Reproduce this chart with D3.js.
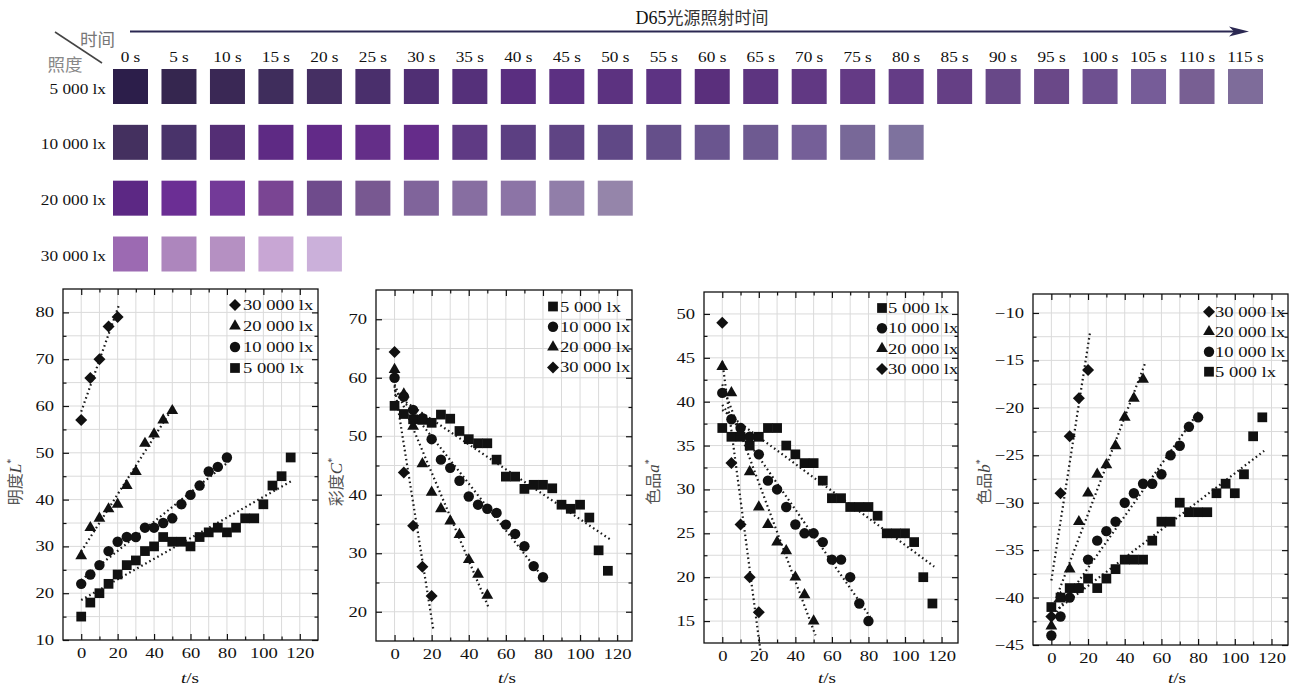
<!DOCTYPE html>
<head>
<meta charset="utf-8">
<script src="https://d3js.org/d3.v7.min.js"></script>
<style>
  body { margin:0; background:#fff; }
  text { font-family:"Liberation Serif","Times New Roman",serif; fill:#111; }
  .cjk { font-family:"Noto Sans CJK SC",sans-serif; }
  .grid line { stroke:#dadada; stroke-width:1; }
  .fit { fill:none; stroke:#1a1a1a; stroke-width:2.2; stroke-dasharray:1.6,3; }
  .tick line { stroke:#111; stroke-width:1.2; }
</style>
</head>
<body>
<svg id="fig" width="1296" height="686"></svg>
<script>
// ---- swatch strip ----
var times = [0,5,10,15,20,25,30,35,40,45,50,55,60,65,70,75,80,85,90,95,100,105,110,115];
var rowLabels = ["5 000 lx", "10 000 lx", "20 000 lx", "30 000 lx"];
var swatch5000 = ["#2c1e4a","#35264f","#3a2855","#3f2d5c","#452f63","#4a2f6c","#502f74","#55307a",
  "#5a2e80","#5c3082","#5c3280","#5d3383","#5a2f7c","#5d3480","#613883","#643a85","#643c86",
  "#653f85","#684888","#6a4888","#6e5090","#765c98","#785f93","#7e6c9a"];
var swatch10000 = ["#44305f","#49336a","#542e75","#5e2a84","#622a88","#642e88","#652c8a","#5f3a84",
  "#5c3f82","#5f4484","#604886","#654f8a","#6a558f","#6e5a91","#755f98","#786898","#7e729e"];
var swatch20000 = ["#5c2884","#6b2e94","#733a98","#7a4593","#6f4b8c","#785891","#80649b","#876ea1",
  "#8c74a6","#917ea9","#9585aa"];
var swatch30000 = ["#9c6ab2","#ad86bd","#b590c2","#c8a6d4","#cbb0da"];

// ---- measured series ----
var t5000  = [0,5,10,15,20,25,30,35,40,45,50,55,60,65,70,75,80,85,90,95,100,105,110,115];
var t10000 = [0,5,10,15,20,25,30,35,40,45,50,55,60,65,70,75,80];
var t20000 = [0,5,10,15,20,25,30,35,40,45,50];
var t30000 = [0,5,10,15,20];

var L5000  = [15,18,20,22,24,26,27,29,30,32,31,31,30,32,33,34,33,34,36,36,39,43,45,49];
var L10000 = [22,24,26,29,31,32,32,34,34,35,36,39,41,43,46,47,49];
var L20000 = [28,34,36,38,39,43,46,52,54,57,59];
var L30000 = [57,66,70,77,79];

var C5000  = [55.2,53.8,52.9,52.8,52.3,53.7,53.0,50.9,49.5,48.8,48.8,46.0,43.1,43.1,41.0,41.7,41.7,41.1,38.3,37.6,38.3,36.1,30.5,27.0];
var C10000 = [60.0,56.8,54.5,53.1,49.5,46.0,44.6,42.4,39.7,38.3,37.6,36.9,34.9,33.3,31.2,27.8,25.9];
var C20000 = [61.4,57.2,51.7,45.3,40.4,37.6,35.5,33.2,28.9,26.4,22.8];
var C30000 = [64.4,43.8,34.7,27.7,22.7];

var A5000  = [37,36,36,35,36,37,37,35,34,33,33,31,29,29,28,28,28,27,25,25,25,24,20,17];
var A10000 = [41,38,37,36,34,31,30,28,26,25,25,24,22,22,20,17,15];
var A20000 = [44,41,36.5,32,28,26,24,23,20,18,15];
var A30000 = [49,33,26,20,16];

var B5000  = [-41,-40,-39,-39,-38,-39,-38,-37,-36,-36,-36,-34,-32,-32,-30,-31,-31,-31,-29,-28,-29,-27,-23,-21];
var B10000 = [-44,-42,-40,-39,-36,-34,-33,-32,-30,-29,-28,-28,-27,-25,-24,-22,-21];
var B20000 = [-43,-40,-37,-32,-29,-27,-26,-24,-21,-19,-17];
var B30000 = [-42,-29,-23,-19,-16];

var svg = d3.select("#fig");
var K = 1.33;     // chart text is drawn wide, as in the figure
var KTOP = 1.15;

// ---------- header ----------
svg.append("line").attr("x1", 130).attr("y1", 31.5).attr("x2", 1238).attr("y2", 31.5)
  .attr("stroke", "#2b2852").attr("stroke-width", 2);
svg.append("path").attr("d", "M1249,31.5 L1229,26.5 L1234,31.5 L1229,36.5 Z").attr("fill", "#2b2852");

var title = svg.append("text").attr("x", 702).attr("y", 24).attr("text-anchor", "middle");
title.append("tspan").attr("font-size", 18).text("D65");
title.append("tspan").attr("class", "cjk").attr("font-size", 17).style("fill", "#333").text("光源照射时间");

svg.append("line").attr("x1", 55).attr("y1", 32).attr("x2", 102).attr("y2", 63)
  .attr("stroke", "#444").attr("stroke-width", 1.5);
svg.append("text").attr("class", "cjk").attr("x", 97.5).attr("y", 46).attr("text-anchor", "middle")
  .attr("font-size", 17.5).style("fill", "#777").text("时间");
svg.append("text").attr("class", "cjk").attr("x", 65).attr("y", 71).attr("text-anchor", "middle")
  .attr("font-size", 17.5).style("fill", "#888").text("照度");

var sx = d3.scaleLinear().domain([0, 115]).range([130.5, 1245.5]);
var sy = d3.scalePoint().domain(rowLabels).range([86.5, 254]);
var SW = 35;

svg.append("g").selectAll("text").data(times).join("text")
  .attr("text-anchor", "middle").attr("font-size", 15)
  .attr("transform", function(d) { return "translate(" + sx(d) + ",62) scale(" + KTOP + ",1)"; })
  .text(function(d) { return d + " s"; });

var rows = [swatch5000, swatch10000, swatch20000, swatch30000];
rows.forEach(function(cols, r) {
  var cy = sy(rowLabels[r]);
  svg.append("text").attr("text-anchor", "end").attr("font-size", 15)
    .attr("transform", "translate(106," + (cy + 7) + ") scale(" + KTOP + ",1)")
    .text(rowLabels[r]);
  svg.append("g").selectAll("rect").data(cols).join("rect")
    .attr("x", function(d, i) { return sx(times[i]) - SW / 2; })
    .attr("y", cy - SW / 2)
    .attr("width", SW).attr("height", SW)
    .attr("fill", function(d) { return d; });
});

// ---------- scatter charts ----------
var series = {
  "5000":  { label: "5 000 lx",  shape: "square",   t: t5000 },
  "10000": { label: "10 000 lx", shape: "circle",   t: t10000 },
  "20000": { label: "20 000 lx", shape: "triangle", t: t20000 },
  "30000": { label: "30 000 lx", shape: "diamond",  t: t30000 }
};

var charts = [
  { left: 63, right: 318, top: 289, bottom: 640, xDomain: [-10, 130], yDomain: [10, 85],
    yTicks: d3.range(10, 81, 10), yMinor: 5, name: "明度", sym: "L", titleX: 15, xTitle: 190,
    values: { "5000": L5000, "10000": L10000, "20000": L20000, "30000": L30000 },
    legend: ["30000", "20000", "10000", "5000"], legX: 235, legText: 243, legY: 305, legStep: 21 },
  { left: 376, right: 632, top: 290, bottom: 641, xDomain: [-10, 128], yDomain: [15, 75],
    yTicks: d3.range(20, 71, 10), yMinor: 5, name: "彩度", sym: "C", titleX: 336, xTitle: 507,
    values: { "5000": C5000, "10000": C10000, "20000": C20000, "30000": C30000 },
    legend: ["5000", "10000", "20000", "30000"], legX: 553, legText: 560, legY: 306.5, legStep: 20.3 },
  { left: 704, right: 958, top: 292, bottom: 643, xDomain: [-10, 129], yDomain: [12.5, 52.5],
    yTicks: d3.range(15, 51, 5), yMinor: 2.5, name: "色品", sym: "a", titleX: 653, xTitle: 827,
    values: { "5000": A5000, "10000": A10000, "20000": A20000, "30000": A30000 },
    legend: ["5000", "10000", "20000", "30000"], legX: 882, legText: 888, legY: 308, legStep: 20.3 },
  { left: 1033, right: 1288, top: 294, bottom: 645, xDomain: [-10, 129], yDomain: [-45, -8],
    yTicks: d3.range(-45, -9, 5), yMinor: 2.5, name: "色品", sym: "b", titleX: 984, xTitle: 1177,
    values: { "5000": B5000, "10000": B10000, "20000": B20000, "30000": B30000 },
    legend: ["30000", "20000", "10000", "5000"], legX: 1209, legText: 1215, legY: 311.7, legStep: 20 }
];

function symbolPath(shape) {
  if (shape === "square") return d3.symbol(d3.symbolSquare, 95)();
  if (shape === "circle") return d3.symbol(d3.symbolCircle, 85)();
  if (shape === "triangle") return d3.symbol(d3.symbolTriangle, 60)();
  return d3.symbol(d3.symbolSquare, 72)();
}
function symbolRot(shape) { return shape === "diamond" ? " rotate(45)" : ""; }

function fit(ts, vs) {
  var mt = d3.mean(ts), mv = d3.mean(vs);
  var b = d3.sum(ts, function(t, i) { return (t - mt) * (vs[i] - mv); }) /
          d3.sum(ts, function(t) { return (t - mt) * (t - mt); });
  return [mv - b * mt, b];
}

function stretchText(sel) {
  sel.selectAll("text").each(function() {
    var t = d3.select(this);
    var x = +t.attr("x") || 0;
    t.attr("x", x / K).attr("transform", "scale(" + K + ",1)");
  });
}

function cleanAxis(g) {
  g.attr("font-family", null).attr("font-size", 14);
  g.select(".domain").remove();
}

charts.forEach(function(c) {
  var g = svg.append("g");
  var x = d3.scaleLinear().domain(c.xDomain).range([c.left, c.right]);
  var y = d3.scaleLinear().domain(c.yDomain).range([c.bottom, c.top]);
  var xMajor = d3.range(0, 121, 20);
  var xMinor = d3.range(0, 130, 10).filter(function(v) { return v % 20 !== 0 && v < c.xDomain[1]; });
  var yAll = d3.range(c.yTicks[0] - c.yMinor * 2, c.yDomain[1] + 0.001, c.yMinor)
    .filter(function(v) { return v > c.yDomain[0] + 0.01 && v < c.yDomain[1] - 0.01; });
  var yMinor = yAll.filter(function(v) { return c.yTicks.indexOf(v) < 0; });

  // grid
  var grid = g.append("g").attr("class", "grid");
  grid.selectAll(".gx").data(d3.range(0, 130, 10).filter(function(v) { return v < c.xDomain[1]; }))
    .join("line").attr("class", "gx")
    .attr("x1", function(d) { return x(d); }).attr("x2", function(d) { return x(d); })
    .attr("y1", c.top).attr("y2", c.bottom);
  grid.selectAll(".gy").data(yAll).join("line").attr("class", "gy")
    .attr("y1", function(d) { return y(d); }).attr("y2", function(d) { return y(d); })
    .attr("x1", c.left).attr("x2", c.right);

  // regression lines
  var line = d3.line().x(function(d) { return x(d[0]); }).y(function(d) { return y(d[1]); });
  Object.keys(series).forEach(function(k) {
    var s = series[k], vs = c.values[k];
    var p = fit(s.t, vs);
    var t1 = d3.max(s.t) + 1;
    g.append("path").attr("class", "fit")
      .attr("d", line([[0, p[0]], [t1, p[0] + p[1] * t1]]));
  });

  // markers
  Object.keys(series).forEach(function(k) {
    var s = series[k], vs = c.values[k];
    g.append("g").selectAll("path").data(s.t).join("path")
      .attr("d", symbolPath(s.shape))
      .attr("fill", "#111")
      .attr("transform", function(d, i) {
        return "translate(" + x(d) + "," + y(vs[i]) + ")" + symbolRot(s.shape);
      });
  });

  // frame
  g.append("rect").attr("x", c.left).attr("y", c.top)
    .attr("width", c.right - c.left).attr("height", c.bottom - c.top)
    .attr("fill", "none").attr("stroke", "#111").attr("stroke-width", 1.3);

  // axes with inward ticks
  var ax = g.append("g").attr("transform", "translate(0," + c.bottom + ")")
    .call(d3.axisBottom(x).tickValues(xMajor).tickSize(-6).tickPadding(8));
  cleanAxis(ax); stretchText(ax);
  var axm = g.append("g").attr("transform", "translate(0," + c.bottom + ")")
    .call(d3.axisBottom(x).tickValues(xMinor).tickSize(-3.5).tickFormat(""));
  cleanAxis(axm);
  var ay = g.append("g").attr("transform", "translate(" + c.left + ",0)")
    .call(d3.axisLeft(y).tickValues(c.yTicks).tickSize(-6).tickPadding(9));
  cleanAxis(ay); stretchText(ay);
  var aym = g.append("g").attr("transform", "translate(" + c.left + ",0)")
    .call(d3.axisLeft(y).tickValues(yMinor).tickSize(-3.5).tickFormat(""));
  cleanAxis(aym);
  var at = g.append("g").attr("transform", "translate(0," + c.top + ")")
    .call(d3.axisTop(x).tickValues(xMajor).tickSize(-6).tickFormat(""));
  cleanAxis(at);
  var atm = g.append("g").attr("transform", "translate(0," + c.top + ")")
    .call(d3.axisTop(x).tickValues(xMinor).tickSize(-3.5).tickFormat(""));
  cleanAxis(atm);
  var ar = g.append("g").attr("transform", "translate(" + c.right + ",0)")
    .call(d3.axisRight(y).tickValues(c.yTicks).tickSize(-6).tickFormat(""));
  cleanAxis(ar);
  var arm = g.append("g").attr("transform", "translate(" + c.right + ",0)")
    .call(d3.axisRight(y).tickValues(yMinor).tickSize(-3.5).tickFormat(""));
  cleanAxis(arm);
  ax.selectAll("text").attr("fill", "#111");
  ay.selectAll("text").attr("fill", "#111");

  // axis titles
  var xt = g.append("text").attr("font-size", 14.5).attr("text-anchor", "middle")
    .attr("transform", "translate(" + c.xTitle + ",683) scale(" + K + ",1)");
  xt.append("tspan").attr("font-style", "italic").text("t");
  xt.append("tspan").text("/s");

  var yt = g.append("text").attr("text-anchor", "middle")
    .attr("transform", "translate(" + (c.titleX + 6) + ",482) rotate(-90)");
  yt.append("tspan").attr("class", "cjk").attr("font-size", 16).style("fill", "#555").text(c.name);
  yt.append("tspan").attr("font-size", 17).attr("font-style", "italic").style("fill", "#444").text(c.sym);
  yt.append("tspan").attr("font-size", 10).attr("dy", -7).style("fill", "#444").text("*");

  // legend
  c.legend.forEach(function(k, i) {
    var ly = c.legY + i * c.legStep;
    var s = series[k];
    g.append("path").attr("d", symbolPath(s.shape)).attr("fill", "#111")
      .attr("transform", "translate(" + c.legX + "," + ly + ")" + symbolRot(s.shape));
    g.append("text").attr("font-size", 14)
      .attr("transform", "translate(" + c.legText + "," + (ly + 5) + ") scale(" + K + ",1)")
      .text(s.label);
  });
});
</script>
</body>
